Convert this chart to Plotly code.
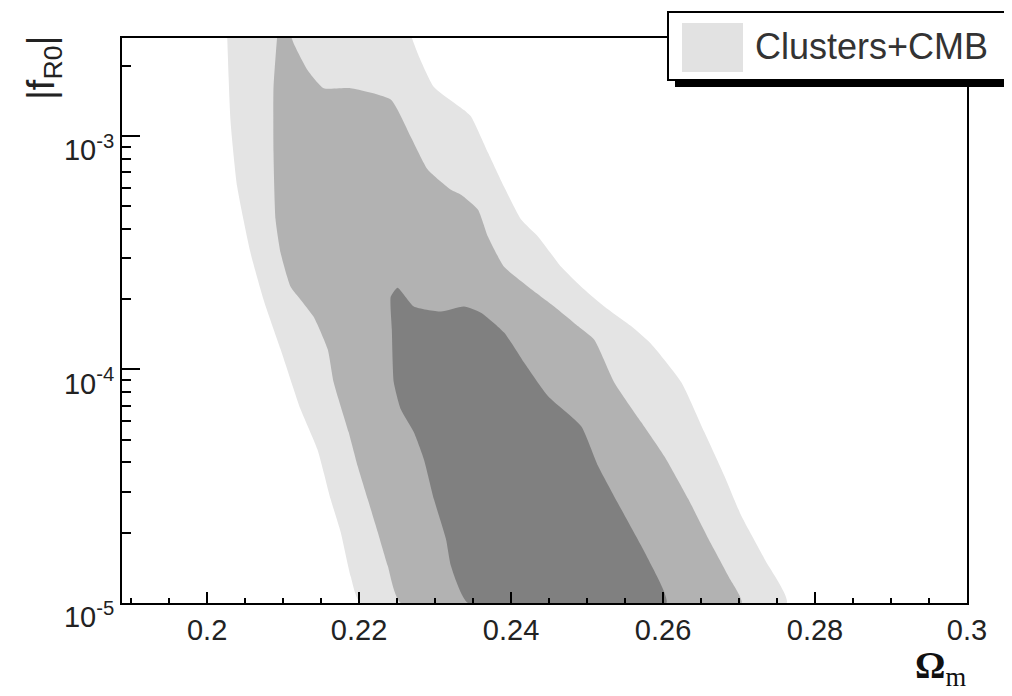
import plotly.graph_objects as go

# ---- data: contour boundaries (Omega_m, |f_R0|) ----
# outer (light) region: left edge top->bottom, then right edge bottom->top
light_om = [0.20264, 0.20307, 0.20396, 0.20571, 0.20743, 0.20967, 0.21230, 0.21451,
            0.21626, 0.21758, 0.21890, 0.22022,
            0.27627, 0.27337, 0.27033, 0.26809, 0.26545, 0.26242, 0.25849, 0.25583,
            0.25227, 0.24923, 0.24659, 0.24356, 0.24132, 0.23908, 0.23697, 0.23473,
            0.23380, 0.22985, 0.22770, 0.22681]
light_f = [2.7e-3, 1.17e-3, 6.05e-4, 3.16e-4, 1.99e-4, 1.22e-4, 6.75e-5, 4.55e-5,
           2.78e-5, 2.01e-5, 1.30e-5, 1.0e-5,
           1.0e-5, 1.54e-5, 2.35e-5, 3.49e-5, 5.38e-5, 8.8e-5, 1.28e-4, 1.53e-4,
           1.86e-4, 2.26e-4, 2.75e-4, 3.70e-4, 4.38e-4, 6.05e-4, 8.46e-4, 1.21e-3,
           1.29e-3, 1.62e-3, 2.26e-3, 2.7e-3]

# middle region
mid_om = [0.20923, 0.20874, 0.20874, 0.20901, 0.20967, 0.21099, 0.21230, 0.21402,
          0.21587, 0.21666, 0.21863, 0.21982, 0.22114, 0.22246, 0.22378, 0.22549,
          0.27033, 0.26862, 0.26598, 0.26334, 0.26017, 0.25714, 0.25358, 0.25095,
          0.24884, 0.24567, 0.24224, 0.23908, 0.23697, 0.23565, 0.23341, 0.23209,
          0.22906, 0.22681, 0.22417, 0.21890, 0.21534, 0.21323, 0.21138, 0.21100]
mid_f = [2.7e-3, 1.62e-3, 8.46e-4, 4.38e-4, 3.16e-4, 2.26e-4, 1.99e-4, 1.68e-4,
         1.22e-4, 8.8e-5, 5.38e-5, 3.85e-5, 2.78e-5, 2.01e-5, 1.44e-5, 1.0e-5,
         1.0e-5, 1.30e-5, 1.88e-5, 2.78e-5, 4.25e-5, 5.94e-5, 8.8e-5, 1.34e-4,
         1.53e-4, 1.86e-4, 2.26e-4, 2.75e-4, 3.70e-4, 4.83e-4, 5.60e-4, 5.88e-4,
         7.16e-4, 9.9e-4, 1.43e-3, 1.60e-3, 1.60e-3, 1.91e-3, 2.49e-3, 2.7e-3]

# inner (dark) region
dark_om = [0.22506, 0.22417, 0.22431, 0.22457, 0.22549, 0.22721, 0.22853, 0.22985,
           0.23143, 0.23209, 0.23433,
           0.26044, 0.25806, 0.25450, 0.25147, 0.24923, 0.24488, 0.24171, 0.23908,
           0.23604, 0.23380, 0.23077, 0.22721, 0.22506]
dark_f = [2.24e-4, 2.05e-4, 1.48e-4, 8.8e-5, 6.75e-5, 5.38e-5, 4.12e-5, 2.78e-5,
          1.88e-5, 1.44e-5, 1.0e-5,
          1.0e-5, 1.54e-5, 2.52e-5, 3.85e-5, 5.71e-5, 7.67e-5, 1.07e-4, 1.44e-4,
          1.75e-4, 1.86e-4, 1.77e-4, 1.86e-4, 2.24e-4]

x_tickvals = [0.2, 0.22, 0.24, 0.26, 0.28, 0.3]
x_ticktext = ["0.2", "0.22", "0.24", "0.26", "0.28", "0.3"]
x_minor = [0.19, 0.195, 0.205, 0.21, 0.215, 0.225, 0.23, 0.235, 0.245, 0.25, 0.255,
           0.265, 0.27, 0.275, 0.285, 0.29, 0.295]
y_tickvals = [1e-5, 1e-4, 1e-3]
y_ticktext = ["10<sup>-5</sup>", "10<sup>-4</sup>", "10<sup>-3</sup>"]
y_minor = [2e-5, 3e-5, 4e-5, 5e-5, 6e-5, 7e-5, 8e-5, 9e-5,
           2e-4, 3e-4, 4e-4, 5e-4, 6e-4, 7e-4, 8e-4, 9e-4, 2e-3]

legend_label = "Clusters+CMB"

LIGHT = "#e4e4e4"
MID = "#b2b2b2"
DARK = "#808080"
FONT = "Liberation Sans"

fig = go.Figure()
for xs, ys, col in [(light_om, light_f, LIGHT), (mid_om, mid_f, MID), (dark_om, dark_f, DARK)]:
    fig.add_trace(go.Scatter(x=xs, y=ys, mode="lines", fill="toself", fillcolor=col,
                             line=dict(width=0, color=col, shape="spline", smoothing=0.5),
                             hoverinfo="skip", showlegend=False))

# The page body has an 8px margin, so the figure is laid out 8px smaller
OFF = 8
W, H = 1012 - OFF, 696 - OFF
L, T = 122 - OFF, 38 - OFF
R = W - (967 - OFF)
B = H - (603 - OFF)
pw, ph = W - L - R, H - T - B


def px(x):  # page pixel -> paper
    return (x - OFF - L) / pw


def py(y):
    return (H - B - (y - OFF)) / ph


fig.update_layout(
    width=W, height=H,
    margin=dict(l=L, r=R, t=T, b=B),
    paper_bgcolor="white", plot_bgcolor="white",
    font=dict(family=FONT, color="#222222"),
    showlegend=False,
    xaxis=dict(range=[0.1888, 0.3], tickmode="array", tickvals=x_tickvals,
               ticktext=x_ticktext, ticks="inside", ticklen=11, tickwidth=2,
               tickcolor="black", showline=True, linewidth=2, linecolor="black",
               mirror=True, showgrid=False, zeroline=False,
               tickfont=dict(size=29, family=FONT, color="#222222"),
               minor=dict(tickmode="array", tickvals=x_minor, ticks="inside",
                          ticklen=5, tickwidth=2, tickcolor="black", showgrid=False)),
    yaxis=dict(type="log", range=[-5, -2.581], tickmode="array", tickvals=y_tickvals,
               ticktext=y_ticktext, ticks="inside", ticklen=18, tickwidth=2,
               tickcolor="black", showline=True, linewidth=2, linecolor="black",
               mirror=True, showgrid=False, zeroline=False, ticklabelshift=14,
               tickfont=dict(size=29, family=FONT, color="#222222"),
               minor=dict(tickmode="array", tickvals=y_minor, ticks="inside",
                          ticklen=9, tickwidth=2, tickcolor="black", showgrid=False)),
)

# legend box (drawn manually, with ROOT-style shadow)
bx0, by0, bx1, by1 = 668, 12, 1009, 80
sh = 7
fig.add_shape(type="rect", xref="paper", yref="paper", layer="above",
              x0=px(bx0 + sh), x1=px(bx1 + sh), y0=py(by1 + sh), y1=py(by0 + sh),
              fillcolor="black", line=dict(width=0))
fig.add_shape(type="rect", xref="paper", yref="paper", layer="above",
              x0=px(bx0), x1=px(bx1), y0=py(by1), y1=py(by0),
              fillcolor="white", line=dict(width=2, color="black"))
fig.add_shape(type="rect", xref="paper", yref="paper", layer="above",
              x0=px(682), x1=px(743), y0=py(72), y1=py(23),
              fillcolor="#e2e2e2", line=dict(width=0))
fig.add_annotation(xref="paper", yref="paper", x=px(753), y=py(47), xanchor="left",
                   yanchor="middle", text=legend_label, showarrow=False,
                   font=dict(size=36, family=FONT, color="#333333"))

# axis titles
fig.add_annotation(xref="paper", yref="paper", x=px(44), y=py(68), xanchor="center",
                   yanchor="middle", textangle=-90, text="|f<sub>R0</sub>|",
                   showarrow=False, font=dict(size=38, family=FONT, color="#222222"))
fig.add_annotation(xref="paper", yref="paper", x=px(940), y=py(668), xanchor="center",
                   yanchor="middle", text="<b>Ω</b><sub>m</sub>",
                   showarrow=False, font=dict(size=38, family="Liberation Serif", color="#111111"))

fig.write_html("out.html")
